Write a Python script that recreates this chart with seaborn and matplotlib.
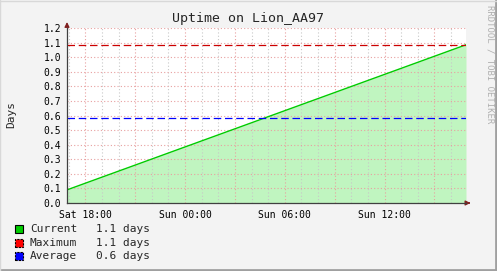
import matplotlib
matplotlib.use("Agg")
import matplotlib.pyplot as plt
import matplotlib.dates as mdates
import matplotlib.patches as mpatches
import seaborn as sns
import pandas as pd

# ---- data ----
times = ["2024-01-06 16:54", "2024-01-07 16:54"]
uptime_days = [0.09, 1.085]
maximum_days = 1.085
average_days = 0.585
y_ticks = [0.0, 0.1, 0.2, 0.3, 0.4, 0.5, 0.6, 0.7, 0.8, 0.9, 1.0, 1.1, 1.2]
legend_names = ["Current", "Maximum", "Average"]
legend_values = ["1.1 days", "1.1 days", "0.6 days"]
legend_colors = ["#00cc00", "#ff0000", "#0000ff"]
title = "Uptime on Lion_AA97"
y_label = "Days"
watermark = "RRDTOOL / TOBI OETIKER"

sns.set_style("white")
plt.rcParams["font.family"] = ["DejaVu Sans Mono", "DejaVu Sans"]

df = pd.DataFrame({"time": pd.to_datetime(times), "uptime": uptime_days})

W, H = 497, 271
fig = plt.figure(figsize=(W / 100, H / 100), dpi=100, facecolor="#f3f3f3")
L, R, T, B = 67, 466, 28, 203
ax = fig.add_axes([L / W, 1 - B / H, (R - L) / W, (B - T) / H])
ax.set_facecolor("white")

ax.fill_between(df["time"], df["uptime"], 0, color="#c0f5c0", lw=0, zorder=1)
sns.lineplot(data=df, x="time", y="uptime", ax=ax, color="#00cc00", lw=1.0, zorder=3)
ax.axhline(maximum_days, color="#cc0000", lw=0.9, ls=(0, (6, 3)), zorder=4)
ax.axhline(average_days, color="#0000ff", lw=0.9, ls=(0, (6, 3)), zorder=4)

ax.set_xlim(df["time"].iloc[0], df["time"].iloc[-1])
ax.set_ylim(0, 1.2)
ax.set_yticks(y_ticks)
ax.set_yticklabels([f"{v:.1f}" for v in y_ticks])

ax.xaxis.set_major_locator(mdates.HourLocator(byhour=range(0, 24, 3)))
ax.xaxis.set_minor_locator(mdates.HourLocator())
lab_fmt = mdates.DateFormatter("%a %H:%M")
ax.xaxis.set_major_formatter(plt.FuncFormatter(
    lambda v, p: lab_fmt(v) if mdates.num2date(v).hour % 6 == 0 else ""))

ax.grid(True, which="minor", axis="x", color="#c8c8c8", ls=(0, (1, 2)), lw=0.8, zorder=2)
ax.grid(True, which="major", axis="both", color="#e8a0a0", ls=(0, (1, 2)), lw=0.8, zorder=2)
ax.set_axisbelow(False)

for s in ["top", "right"]:
    ax.spines[s].set_visible(False)
for s in ["left", "bottom"]:
    ax.spines[s].set_color("#404040")
    ax.spines[s].set_linewidth(0.9)
    ax.spines[s].set_zorder(5)

ax.tick_params(axis="both", which="both", labelsize=7, colors="#000000", pad=2)
ax.tick_params(axis="y", length=2, color="#e8a0a0")
ax.tick_params(axis="x", which="major", length=3, color="#e8a0a0")
ax.tick_params(axis="x", which="minor", length=0)
ax.set_xlabel("")
ax.set_ylabel("")

# axis arrows
ax.annotate("", xy=(0, 1.05), xytext=(0, 1.0), xycoords="axes fraction",
            arrowprops=dict(arrowstyle="-|>", color="#802020", lw=0.9, mutation_scale=7),
            annotation_clip=False)
ax.annotate("", xy=(1.018, 0), xytext=(1.0, 0), xycoords="axes fraction",
            arrowprops=dict(arrowstyle="-|>", color="#802020", lw=0.9, mutation_scale=7),
            annotation_clip=False)

fig.text(248 / W, 1 - 19 / H, title, ha="center", va="center", fontsize=9.5)
fig.text(11 / W, 1 - 115 / H, y_label, rotation=90, ha="center", va="center", fontsize=8)
fig.text(490 / W, 1 - 5 / H, watermark, rotation=-90, ha="center", va="top",
         fontsize=6.5, color="#b0b0b0")

for i, (n, v, c) in enumerate(zip(legend_names, legend_values, legend_colors)):
    yc = 229 + i * 13.5
    ls = "-" if i == 0 else (0, (2, 1))
    fig.patches.append(mpatches.Rectangle((15 / W, 1 - (yc + 4) / H), 8 / W, 8 / H,
                                          transform=fig.transFigure, facecolor=c,
                                          edgecolor="black", lw=0.8, ls=ls))
    fig.text(30 / W, 1 - yc / H, n, ha="left", va="center", fontsize=8)
    fig.text(96 / W, 1 - yc / H, v, ha="left", va="center", fontsize=8)

# 3D border
fig.add_artist(plt.Line2D([0, 1], [0.004, 0.004], transform=fig.transFigure, color="#a0a0a0", lw=2))
fig.add_artist(plt.Line2D([0.997, 0.997], [0, 1], transform=fig.transFigure, color="#a0a0a0", lw=2))
fig.add_artist(plt.Line2D([0, 1], [0.998, 0.998], transform=fig.transFigure, color="#d8d8d8", lw=1))
fig.add_artist(plt.Line2D([0.001, 0.001], [0, 1], transform=fig.transFigure, color="#d8d8d8", lw=1))

fig.savefig("out.png", dpi=100, facecolor=fig.get_facecolor())
